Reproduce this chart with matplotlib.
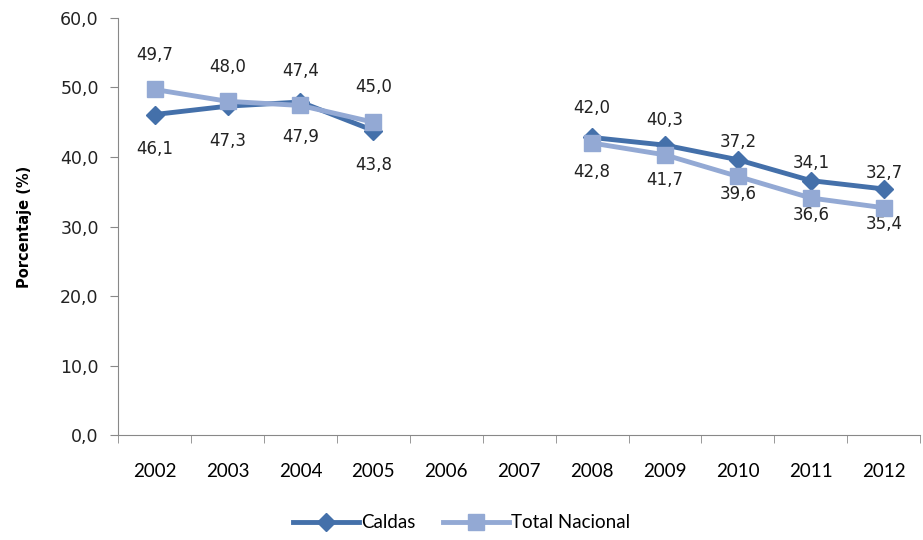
import numpy as np
import matplotlib.pyplot as plt
from matplotlib.ticker import FuncFormatter, FixedLocator

years = ["2002", "2003", "2004", "2005", "2006", "2007", "2008", "2009", "2010", "2011", "2012"]
caldas = [46.1, 47.3, 47.9, 43.8, np.nan, np.nan, 42.8, 41.7, 39.6, 36.6, 35.4]
total_nacional = [49.7, 48.0, 47.4, 45.0, np.nan, np.nan, 42.0, 40.3, 37.2, 34.1, 32.7]

dark = "#4470aa"
light = "#93a9d4"
grey = "#888888"

fig = plt.figure(figsize=(9.23, 5.4), dpi=100)
ax = fig.add_axes([0.128, 0.194, 0.869, 0.773])

x = np.arange(len(years))
ax.plot(x, caldas, color=dark, lw=3.5, marker="D", ms=9, label="Caldas", zorder=3)
ax.plot(x, total_nacional, color=light, lw=3.5, marker="s", ms=11, label="Total Nacional", zorder=4)

def fmt(v):
    return ("%.1f" % v).replace(".", ",")

for i in x:
    if not np.isnan(caldas[i]):
        ax.annotate(fmt(caldas[i]), (i, caldas[i]), xytext=(0, -25), textcoords="offset points",
                    ha="center", va="center", fontsize=12, color="#222222")
    if not np.isnan(total_nacional[i]):
        ax.annotate(fmt(total_nacional[i]), (i, total_nacional[i]), xytext=(0, 25), textcoords="offset points",
                    ha="center", va="center", fontsize=12, color="#222222")

ax.set_xlim(-0.5, len(years) - 0.5)
ax.set_ylim(0, 60)
ax.set_yticks(np.arange(0, 61, 10))
ax.yaxis.set_major_formatter(FuncFormatter(lambda v, p: fmt(v)))
ax.set_xticks(x)
ax.set_xticklabels(years, fontsize=13.5, family="Lato")
ax.xaxis.set_minor_locator(FixedLocator(np.arange(-0.5, len(years), 1.0)))
ax.tick_params(axis="x", which="major", length=0, pad=20)
ax.tick_params(axis="x", which="minor", length=6, color=grey, direction="out")
ax.tick_params(axis="y", length=6, color=grey, labelsize=12.5, pad=8)
for lab in ax.get_yticklabels():
    lab.set_color("#222222")

for s in ["top", "right"]:
    ax.spines[s].set_visible(False)
ax.spines["left"].set_color(grey)
ax.spines["bottom"].set_color(grey)

ax.set_ylabel("Porcentaje (%)", fontsize=10.5, fontweight="bold", labelpad=20)

leg = fig.legend(loc="lower center", bbox_to_anchor=(0.5, -0.015), ncol=2, frameon=False,
                 prop={"family": "Lato", "size": 13.5}, handlelength=3.5, columnspacing=1.5,
                 handletextpad=0.1)

fig.savefig("out.png", dpi=100)
